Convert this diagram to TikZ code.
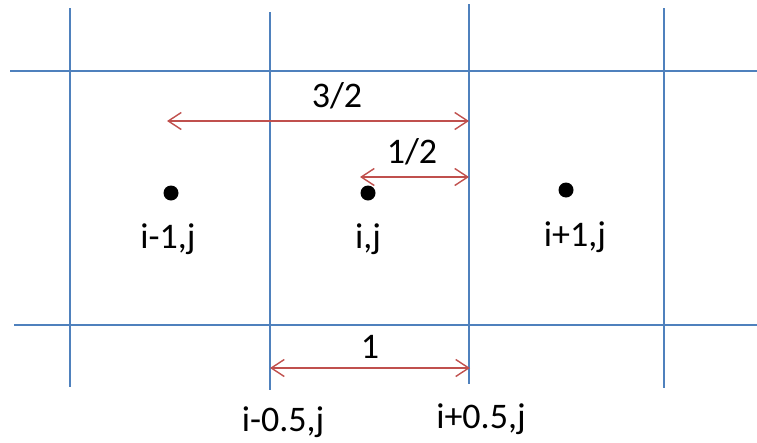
\documentclass[tikz,border=0pt]{standalone}
\usepackage{fontspec}
\setmainfont{Carlito}
\usetikzlibrary{arrows.meta}
\definecolor{gridblue}{HTML}{4F81BD}
\definecolor{spanred}{HTML}{C0504D}

\begin{document}
\begin{tikzpicture}[x=1pt, y=-1pt,
    gridline/.style={gridblue, line width=2.3pt},
    span/.style={spanred, line width=1.4pt,
      {Straight Barb[length=13pt, width=17pt]}-{Straight Barb[length=13pt, width=17pt]}},
    cell/.style={circle, fill=black, inner sep=0pt, minimum size=15pt},
    lbl/.style={font=\fontsize{36}{40}\selectfont, inner sep=0pt, anchor=base}]
    \useasboundingbox (0,0) rectangle (757,442);
    % grid lines
    \draw[gridline] (70,8) -- (70,387);
    \draw[gridline] (270,12) -- (270,390);
    \draw[gridline] (469,4) -- (469,384);
    \draw[gridline] (664,8) -- (664,388);
    \draw[gridline] (10,71) -- (757,71);
    \draw[gridline] (14,325) -- (757,325);
    % cell centres
    \node[cell] (pim) at (171,193) {};
    \node[cell] (pi) at (368,193) {};
    \node[cell] (pip) at (566,190) {};
    \node[lbl] (lim) at (168,248) {i-1,j};
    \node[lbl] (li) at (368,248) {i,j};
    \node[lbl] (lip) at (575,246) {i+1,j};
    \node[lbl] (lfm) at (283,431) {i-0.5,j};
    \node[lbl] (lfp) at (481,428) {i+0.5,j};
    % distances
    \coordinate (a32) at (167,121);
    \coordinate (b32) at (469,121);
    \coordinate (a12) at (360,177);
    \coordinate (b12) at (469,177);
    \coordinate (a1) at (270,368);
    \coordinate (b1) at (470,368);
    \draw[span] (a32) -- (b32);
    \draw[span] (a12) -- (b12);
    \draw[span] (a1) -- (b1);
    \node[lbl] (d32) at (337,107) {3/2};
    \node[lbl] (d12) at (412,163) {1/2};
    \node[lbl] (d1) at (370,358) {1};
\end{tikzpicture}
\end{document}
